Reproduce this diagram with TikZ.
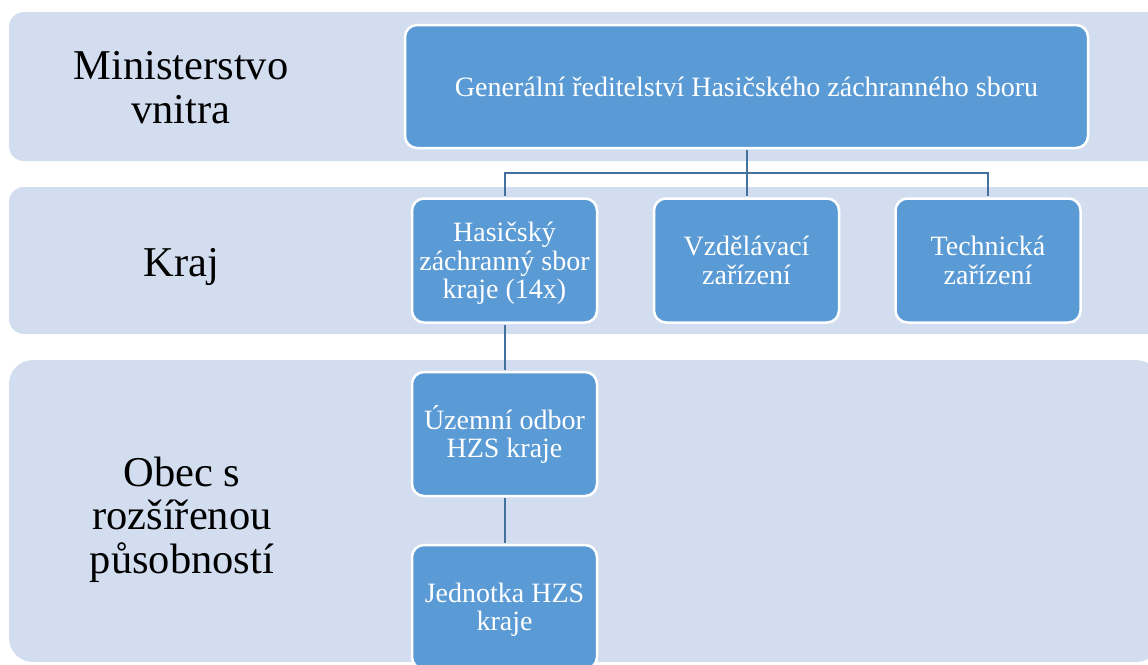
\documentclass[tikz,border=0pt]{standalone}
\usepackage{fontspec}
\setmainfont{Liberation Serif}
\definecolor{bandfill}{HTML}{D2DEEF}
\definecolor{boxblue}{HTML}{5B9BD5}
\definecolor{linkblue}{HTML}{41719C}
\newcommand\bt{\rule{0pt}{26pt}}
\newcommand\bb{\rule[-7pt]{0pt}{7pt}}
\newcommand\lt{\rule{0pt}{37pt}}
\newcommand\lb{\rule[-10pt]{0pt}{10pt}}
\begin{document}
\begin{tikzpicture}[x=1pt,y=-1pt,
  band/.style={fill=bandfill,draw=none},
  level/.style={align=center,text=black,inner sep=0pt,font=\fontsize{42.5}{43.5}\selectfont},
  unit/.style={rectangle,rounded corners=12pt,fill=boxblue,draw=white,line width=2.5pt,
    text=white,align=center,inner sep=0pt,font=\fontsize{28}{28.5}\selectfont,
    minimum width=185pt,minimum height=124pt},
  link/.style={draw=linkblue,line width=2pt,shorten <=1.2pt,shorten >=1.2pt}]
\useasboundingbox (0,0) rectangle (1148,664);
\begin{scope}
\clip (0,0) rectangle (1148,664);
% bands
\path[band,rounded corners=15pt] (9,12) rectangle (1175,161);
\path[band,rounded corners=15pt] (9,187) rectangle (1175,334);
\path[band,rounded corners=24pt] (9,360) rectangle (1160,662);
\end{scope}
% level labels
\node[level] (lmv) at (181,88) {\lt Ministerstvo\\vnitra\lb};
\node[level] (lkraj) at (181.5,262.5) {\lt Kraj\lb};
\node[level] (lorp) at (182,516) {\lt Obec s\\rozšířenou\\působností\lb};
% units
\node[unit,minimum width=683pt,minimum height=123pt] (gr) at (746.5,86.5) {\bt Generální ředitelství Hasičského záchranného sboru\bb};
\node[unit] (hzs) at (504.5,260.5) {\bt Hasičský\\záchranný sbor\\kraje (14x)\bb};
\node[unit] (vzd) at (746.5,260.5) {\bt Vzdělávací\\zařízení\bb};
\node[unit] (tech) at (988,260.5) {\bt Technická\\zařízení\bb};
\node[unit] (uo) at (504.5,434) {\bt Územní odbor\\HZS kraje\bb};
\node[unit] (jed) at (504.5,607) {\bt Jednotka HZS\\kraje\bb};
\coordinate (bus) at (746.5,173);
% connectors
\draw[link] (gr.south) -- (vzd.north);
\draw[link] (hzs.north) |- (bus) -| (tech.north);
\draw[link] (hzs.south) -- (uo.north);
\draw[link] (uo.south) -- (jed.north);
\end{tikzpicture}
\end{document}
